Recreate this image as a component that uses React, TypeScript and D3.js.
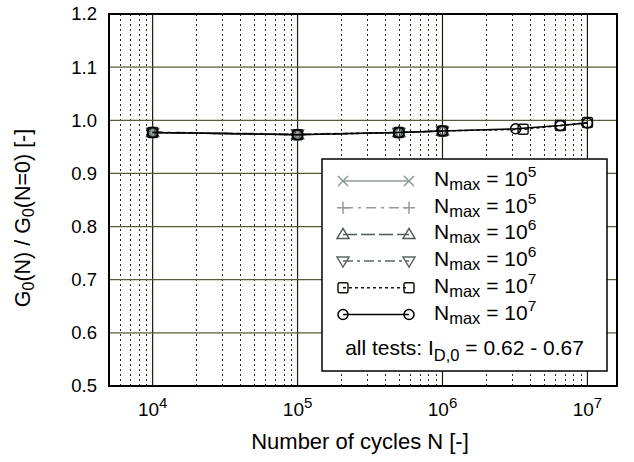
import React from "react";
import * as d3 from "d3";

const W = 634;
const H = 462;

const yTicks = [0.5, 0.6, 0.7, 0.8, 0.9, 1.0, 1.1, 1.2];
const yTickLabels = ["0.5", "0.6", "0.7", "0.8", "0.9", "1.0", "1.1", "1.2"];
const xMajor = [1e4, 1e5, 1e6, 1e7];
const xMajorExp = ["4", "5", "6", "7"];

const xS12 = [1e4, 1e5];
const yS1 = [0.977, 0.973];
const yS2 = [0.978, 0.974];
const xS34 = [1e4, 1e5, 5e5, 1e6];
const yS3 = [0.977, 0.973, 0.977, 0.98];
const yS4 = [0.977, 0.974, 0.977, 0.98];
const xS5 = [1e4, 1e5, 5e5, 1e6, 3.6e6, 6.5e6, 1e7];
const yS5 = [0.977, 0.973, 0.977, 0.98, 0.983, 0.99, 0.996];
const xS6 = [1e4, 1e5, 5e5, 1e6, 3.2e6, 6.5e6, 1e7];
const yS6 = [0.977, 0.973, 0.977, 0.98, 0.984, 0.99, 0.995];
const legendExp = ["5", "5", "6", "6", "7", "7"];

type Sym = "x" | "plus" | "tri" | "itri" | "sq" | "circ";
const series: { xs: number[]; ys: number[]; sym: Sym; color: string; dash: string }[] = [
  { xs: xS12, ys: yS1, sym: "x", color: "#8c9c94", dash: "" },
  { xs: xS12, ys: yS2, sym: "plus", color: "#9a9a9a", dash: "10,5,3,5" },
  { xs: xS34, ys: yS3, sym: "tri", color: "#4e5e50", dash: "14,4" },
  { xs: xS34, ys: yS4, sym: "itri", color: "#5a6a60", dash: "10,4,3,4" },
  { xs: xS5, ys: yS5, sym: "sq", color: "#151510", dash: "3,3" },
  { xs: xS6, ys: yS6, sym: "circ", color: "#000000", dash: "" },
];

const FONT = "'Liberation Sans', Arial, Helvetica, sans-serif";

function Marker({ sym, x, y, color }: { sym: Sym; x: number; y: number; color: string }) {
  const r = 5;
  const common = { stroke: color, strokeWidth: 1.5, fill: "none" };
  switch (sym) {
    case "x":
      return <path d={`M${x - r},${y - r}L${x + r},${y + r}M${x - r},${y + r}L${x + r},${y - r}`} {...common} />;
    case "plus":
      return <path d={`M${x - r - 1},${y}L${x + r + 1},${y}M${x},${y - r - 1}L${x},${y + r + 1}`} {...common} />;
    case "tri":
      return <path d={`M${x},${y - r - 1}L${x + r + 1},${y + r - 1}L${x - r - 1},${y + r - 1}Z`} {...common} />;
    case "itri":
      return <path d={`M${x},${y + r + 1}L${x + r + 1},${y - r + 1}L${x - r - 1},${y - r + 1}Z`} {...common} />;
    case "sq":
      return <rect x={x - r} y={y - r} width={2 * r} height={2 * r} rx={1.5} {...common} />;
    case "circ":
      return <circle cx={x} cy={y} r={r} {...common} />;
  }
}

const crisp = (v: number) => Math.round(v) + 0.5;

export default function App() {
  const x = d3.scaleLog().domain([5000, 1.6e7]).range([109, 617]);
  const y = d3.scaleLinear().domain([0.5, 1.2]).range([386, 14]);
  const [x0, x1] = x.range();
  const [y0, y1] = y.range();

  const minor: number[] = [];
  for (let e = 3; e <= 7; e++) {
    for (let m = 2; m <= 9; m++) {
      const v = m * Math.pow(10, e);
      if (v > 5000 && v < 1.6e7) minor.push(v);
    }
  }

  const line = d3
    .line<[number, number]>()
    .x((d) => x(d[0]))
    .y((d) => y(d[1]));

  const legX = 322, legY = 159, legW = 285, legH = 212;
  const rowY0 = 181, rowDy = 26.7;
  const lx0 = 343, lx1 = 409, tx = 434;

  return (
    <svg width={W} height={H} style={{ position: "absolute", left: 0, top: 0 }} fontFamily={FONT}>
      <rect x={0} y={0} width={W} height={H} fill="#fff" />
      {minor.map((v, i) => (
        <line key={"mn" + i} x1={crisp(x(v))} x2={crisp(x(v))} y1={y1} y2={y0} stroke="#2a2a18" strokeWidth={1} strokeDasharray="2,3" />
      ))}
      {xMajor.map((v, i) => (
        <line key={"mj" + i} x1={x(v)} x2={x(v)} y1={y1} y2={y0} stroke="#1a1a10" strokeWidth={1.2} />
      ))}
      {yTicks.map((v, i) => (
        <line key={"hg" + i} x1={x0} x2={x1} y1={y(v)} y2={y(v)} stroke="#5a5a38" strokeWidth={1.3} />
      ))}
      <rect x={x0} y={y1} width={x1 - x0} height={y0 - y1} fill="none" stroke="#000" strokeWidth={2} />

      {series.map((s, i) => {
        const pts = s.xs.map((v, j) => [v, s.ys[j]] as [number, number]);
        return (
          <g key={"s" + i}>
            <path d={line(pts) || ""} fill="none" stroke={s.color} strokeWidth={1.5} strokeDasharray={s.dash || undefined} />
            {pts.map((p, j) => (
              <Marker key={j} sym={s.sym} x={x(p[0])} y={y(p[1])} color={s.color} />
            ))}
          </g>
        );
      })}

      {yTicks.map((v, i) => (
        <text key={"yl" + i} x={97} y={y(v)} dy="0.35em" textAnchor="end" fontSize={18.5} fill="#000">
          {yTickLabels[i]}
        </text>
      ))}
      {xMajor.map((v, i) => (
        <text key={"xl" + i} x={x(v)} y={416} textAnchor="middle" fontSize={19} fill="#000">
          10
          <tspan fontSize={15} dy={-8}>
            {xMajorExp[i]}
          </tspan>
        </text>
      ))}
      <text x={360} y={449} textAnchor="middle" fontSize={22} fill="#000">
        Number of cycles N [-]
      </text>
      <text transform="translate(30,218) rotate(-90)" textAnchor="middle" fontSize={21.5} fill="#000">
        G
        <tspan fontSize={16} dy={4}>0</tspan>
        <tspan dy={-4}>(N) / G</tspan>
        <tspan fontSize={16} dy={4}>0</tspan>
        <tspan dy={-4}>(N=0) [-]</tspan>
      </text>

      <rect x={legX} y={legY} width={legW} height={legH} fill="#fff" stroke="#000" strokeWidth={1.5} />
      {series.map((s, i) => {
        const ry = rowY0 + i * rowDy;
        return (
          <g key={"lg" + i}>
            <line x1={lx0} x2={lx1} y1={ry} y2={ry} stroke={s.color} strokeWidth={1.5} strokeDasharray={s.dash || undefined} />
            <Marker sym={s.sym} x={lx0} y={ry} color={s.color} />
            <Marker sym={s.sym} x={lx1} y={ry} color={s.color} />
            <text x={tx} y={ry + 5} fontSize={21} fill="#000">
              N
              <tspan fontSize={16.5} dy={4}>max</tspan>
              <tspan dy={-4}> = 10</tspan>
              <tspan fontSize={15.5} dy={-9}>{legendExp[i]}</tspan>
            </text>
          </g>
        );
      })}
      <text x={legX + legW / 2} y={355} textAnchor="middle" fontSize={21} fill="#000">
        all tests: I
        <tspan fontSize={16.5} dy={6}>D,0</tspan>
        <tspan dy={-6}> = 0.62 - 0.67</tspan>
      </text>
    </svg>
  );
}
